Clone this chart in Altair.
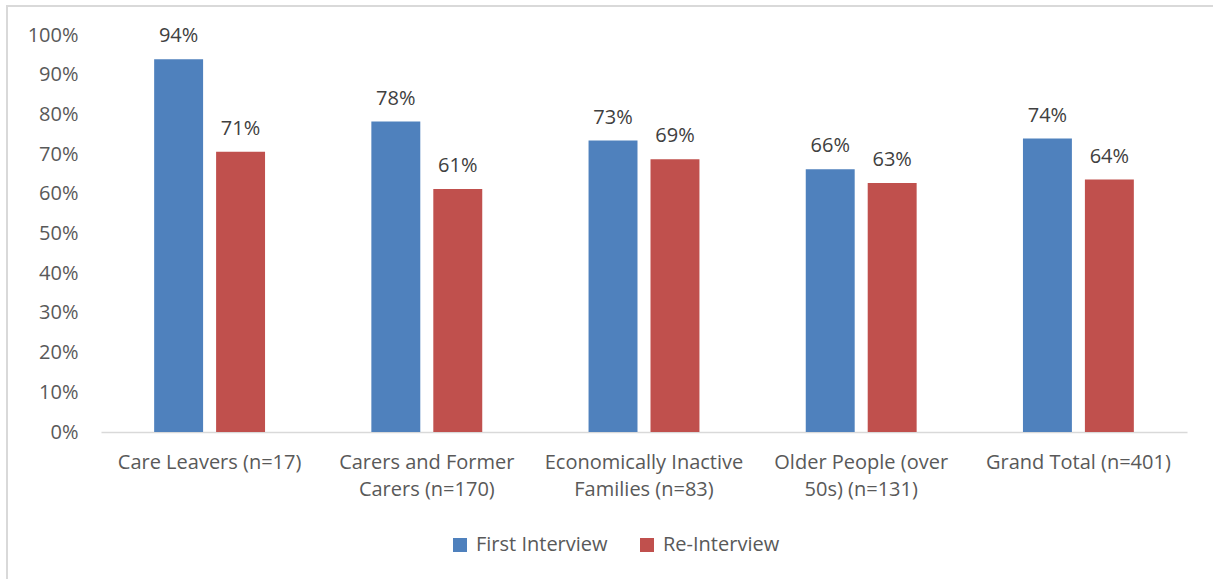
import altair as alt
import pandas as pd

categories = [
    "Care Leavers (n=17)",
    "Carers and Former Carers (n=170)",
    "Economically Inactive Families (n=83)",
    "Older People (over 50s) (n=131)",
    "Grand Total (n=401)",
]
label_lines = [
    ["Care Leavers (n=17)"],
    ["Carers and Former", "Carers (n=170)"],
    ["Economically Inactive", "Families (n=83)"],
    ["Older People (over", "50s) (n=131)"],
    ["Grand Total (n=401)"],
]
series = ["First Interview", "Re-Interview"]
first_interview = [0.939, 0.782, 0.734, 0.662, 0.739]
re_interview = [0.706, 0.612, 0.687, 0.627, 0.636]
colors = ["#4F81BD", "#C0504D"]
y_ticks = [0, 0.1, 0.2, 0.3, 0.4, 0.5, 0.6, 0.7, 0.8, 0.9, 1.0]

rows = []
for c, a, b in zip(categories, first_interview, re_interview):
    rows.append({"category": c, "series": series[0], "value": a})
    rows.append({"category": c, "series": series[1], "value": b})
df = pd.DataFrame(rows)

FONT = "Open Sans"
FS = 20
TXT = "#595959"

parts = []
for c, lines in zip(categories, label_lines):
    arr = "[" + ",".join("'" + l + "'" for l in lines) + "]"
    parts.append(f"datum.value == '{c}' ? {arr} : ")
label_expr = "".join(parts) + "datum.value"

base = alt.Chart(df).encode(
    x=alt.X(
        "category:N",
        sort=categories,
        scale=alt.Scale(paddingInner=0, paddingOuter=0),
        axis=alt.Axis(
            title=None,
            labelExpr=label_expr,
            labelAngle=0,
            ticks=False,
            domainColor="#d9d9d9",
            domainWidth=1.5,
            labelFont=FONT,
            labelFontSize=FS,
            labelColor=TXT,
            labelPadding=20,
            labelLineHeight=27,
            labelBaseline="top",
            labelLimit=0,
        ),
    ),
    xOffset=alt.XOffset(
        "series:N", sort=series, scale=alt.Scale(paddingInner=0.21, paddingOuter=0.858)
    ),
    y=alt.Y(
        "value:Q",
        scale=alt.Scale(domain=[0, 1]),
        axis=alt.Axis(
            title=None,
            format=".0%",
            values=y_ticks,
            grid=False,
            domain=False,
            ticks=False,
            labelPadding=23,
            labelFont=FONT,
            labelFontSize=FS,
            labelColor=TXT,
        ),
    ),
)

bars = base.mark_bar().encode(
    color=alt.Color(
        "series:N",
        sort=series,
        scale=alt.Scale(domain=series, range=colors),
        legend=alt.Legend(
            title=None,
            orient="none",
            legendX=349,
            legendY=500,
            direction="horizontal",
            symbolType="square",
            symbolSize=196,
            symbolStrokeWidth=0,
            symbolOpacity=1,
            labelFont=FONT,
            labelFontSize=FS,
            labelColor=TXT,
            labelOffset=6,
            columnPadding=29,
        ),
    )
)

text = base.mark_text(
    dy=-17, baseline="alphabetic", font=FONT, fontSize=FS, color="#404040"
).encode(text=alt.Text("value:Q", format=".0%"))

border = alt.Chart(pd.DataFrame({"b": [0]})).mark_rect(
    filled=False, stroke="#d9d9d9", strokeWidth=2, clip=False
).encode(
    x=alt.value(-94), x2=alt.value(1300), y=alt.value(-29), y2=alt.value(700)
)

chart = (
    alt.layer(border, bars, text)
    .properties(
        width=1086,
        height=397,
        padding={"left": 101, "top": 35, "right": 26, "bottom": 147},
        autosize=alt.AutoSizeParams(type="none"),
        background="white",
    )
    .configure_view(stroke=None)
)

chart.save("out.html", embed_options={"renderer": "svg", "actions": False})
